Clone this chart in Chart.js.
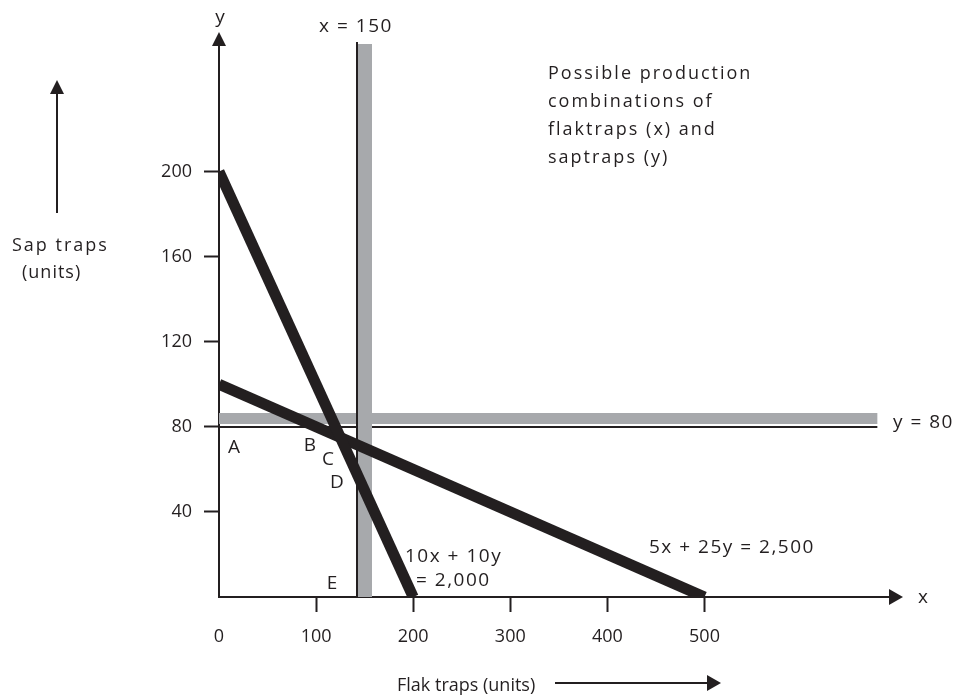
<!DOCTYPE html>
<html>
<head>
<meta charset="utf-8">
<script src="https://cdn.jsdelivr.net/npm/chart.js@4"></script>
<style>
  body { margin: 0; background: #fff; }
  #wrap { width: 959px; height: 700px; }
</style>
</head>
<body>
<div id="wrap"><canvas id="chart" width="959" height="700"></canvas></div>
<script>
const INK = '#231f20';
const GREY = '#a7a9ac';
const FAMILY = '"Open Sans", sans-serif';

// axes
const xTicks = [0, 100, 200, 300, 400, 500];
const yTicks = [40, 80, 120, 160, 200];
const xMax = 690;
const yMax = 260;

// 10x + 10y = 2,000
const lineOneX = [0, 200];
const lineOneY = [200, 0];

// 5x + 25y = 2,500
const lineTwoX = [0, 500];
const lineTwoY = [100, 0];

// limits x = 150 and y = 80
const limitX = 150;
const limitY = 80;
const limitYEnd = 678;

// free text: [text, left/centre x, middle y, align, size, spacing]
const notes = [
  ['y', 220, 18, 'center', 19, 0],
  ['x = 150', 356, 27, 'center', 19, 1.5],
  ['Possible production', 548, 74, 'left', 18, 2],
  ['combinations of', 548, 102, 'left', 18, 2],
  ['flaktraps (x) and', 548, 130, 'left', 18, 2],
  ['saptraps (y)', 548, 158, 'left', 18, 2],
  ['Sap traps', 12, 246, 'left', 18, 2],
  ['(units)', 22, 273, 'left', 18, 1],
  ['A', 234, 448, 'center', 19, 0],
  ['B', 310, 446, 'center', 19, 0],
  ['C', 328, 460, 'center', 19, 0],
  ['D', 337, 483, 'center', 19, 0],
  ['E', 332, 584, 'center', 19, 0],
  ['10x + 10y', 405, 557, 'left', 19, 1.5],
  ['= 2,000', 416, 581, 'left', 19, 1.5],
  ['5x + 25y = 2,500', 649, 548, 'left', 19, 1.5],
  ['y = 80', 893, 423, 'left', 19, 1.5],
  ['x', 923, 598, 'center', 19, 0],
  ['Flak traps (units)', 397, 686, 'left', 18, 0]
];

function toPoints(xs, ys) {
  return xs.map((x, i) => ({ x: x, y: ys[i] }));
}

function arrowHead(ctx, tipX, tipY, dir, len, half) {
  ctx.beginPath();
  if (dir === 'up') {
    ctx.moveTo(tipX, tipY);
    ctx.lineTo(tipX - half, tipY + len);
    ctx.lineTo(tipX + half, tipY + len);
  } else {
    ctx.moveTo(tipX, tipY);
    ctx.lineTo(tipX - len, tipY - half);
    ctx.lineTo(tipX - len, tipY + half);
  }
  ctx.closePath();
  ctx.fill();
}

// grey bands and thin rules for the two limits
const limitsPlugin = {
  id: 'limits',
  beforeDatasetsDraw(chart) {
    const { ctx, scales: { x, y } } = chart;
    const px = Math.round(x.getPixelForValue(limitX));
    const py = Math.round(y.getPixelForValue(limitY));
    const left = x.getPixelForValue(0);
    const right = x.getPixelForValue(limitYEnd);
    const top = y.getPixelForValue(yMax);
    const bottom = y.getPixelForValue(0);
    ctx.save();
    // y = 80: rule on the value, band just above it
    ctx.fillStyle = INK;
    ctx.fillRect(left, py - 1, right - left, 2);
    ctx.fillStyle = GREY;
    ctx.fillRect(left, py - 14, right - left, 11);
    // x = 150: band centred on the value, rule along its left edge
    ctx.fillRect(px - 7, top, 14, bottom - top);
    ctx.fillStyle = INK;
    ctx.fillRect(px - 9, top - 2, 2, bottom - top + 2);
    ctx.restore();
  }
};

// arrowheads, axis captions and notes
const notesPlugin = {
  id: 'notes',
  afterDraw(chart) {
    const { ctx, chartArea: a } = chart;
    ctx.save();
    ctx.fillStyle = INK;
    arrowHead(ctx, a.left, a.top - 12, 'up', 14, 7);
    arrowHead(ctx, a.right + 14, a.bottom, 'right', 14, 8);

    // side arrows next to the axis captions
    ctx.strokeStyle = INK;
    ctx.lineWidth = 2;
    ctx.beginPath();
    ctx.moveTo(57, 213);
    ctx.lineTo(57, 92);
    ctx.moveTo(555, 683);
    ctx.lineTo(708, 683);
    ctx.stroke();
    arrowHead(ctx, 57, 80, 'up', 14, 7);
    arrowHead(ctx, 721, 683, 'right', 14, 8);

    ctx.textBaseline = 'middle';
    notes.forEach(([text, x, y, align, size, spacing]) => {
      ctx.font = size + 'px ' + FAMILY;
      ctx.letterSpacing = spacing + 'px';
      ctx.textAlign = align;
      ctx.fillText(text, x, y);
    });
    ctx.restore();
  }
};

const lineStyle = {
  borderColor: INK,
  backgroundColor: INK,
  borderWidth: 11,
  borderCapStyle: 'butt',
  pointRadius: 0,
  showLine: true,
  fill: false,
  clip: 0
};

new Chart(document.getElementById('chart'), {
  type: 'scatter',
  data: {
    datasets: [
      Object.assign({ label: '10x + 10y = 2,000', data: toPoints(lineOneX, lineOneY) }, lineStyle),
      Object.assign({ label: '5x + 25y = 2,500', data: toPoints(lineTwoX, lineTwoY) }, lineStyle)
    ]
  },
  options: {
    responsive: false,
    animation: false,
    events: [],
    layout: { padding: { top: 44, right: 70, left: 0, bottom: 0 } },
    plugins: { legend: { display: false }, tooltip: { enabled: false } },
    scales: {
      x: {
        type: 'linear',
        min: 0,
        max: xMax,
        afterBuildTicks: s => { s.ticks = xTicks.map(v => ({ value: v })); },
        afterFit: s => { s.height = 103; },
        grid: {
          drawOnChartArea: false,
          tickLength: 15,
          tickWidth: 2,
          color: c => (c.tick && c.tick.value === 0) ? 'rgba(0,0,0,0)' : INK
        },
        border: { color: INK, width: 2 },
        ticks: {
          padding: 14,
          color: INK,
          autoSkip: false,
          maxRotation: 0,
          font: { family: FAMILY, size: 18 }
        }
      },
      y: {
        type: 'linear',
        min: 0,
        max: yMax,
        afterBuildTicks: s => { s.ticks = yTicks.map(v => ({ value: v })); },
        afterFit: s => { s.width = 219; },
        grid: { drawOnChartArea: false, tickLength: 15, tickWidth: 2, color: INK },
        border: { color: INK, width: 2 },
        ticks: {
          padding: 12,
          color: INK,
          autoSkip: false,
          font: { family: FAMILY, size: 18 }
        }
      }
    }
  },
  plugins: [limitsPlugin, notesPlugin]
});
</script>
</body>
</html>
